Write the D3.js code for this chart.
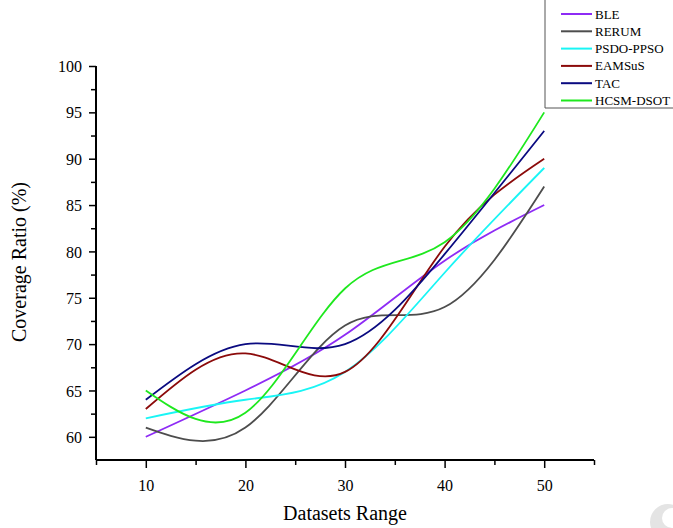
<!DOCTYPE html>
<html>
<head>
<meta charset="utf-8">
<script src="https://cdn.jsdelivr.net/npm/d3@7"></script>
<style>
  body { margin: 0; background: #fff; }
  svg { display: block; }
  svg text { font-family: "Liberation Serif", "Times New Roman", serif; }
</style>
</head>
<body>
<svg id="chart"></svg>
<script>
const width = 673;
const height = 528;

// data
const xValues = [10, 20, 30, 40, 50];
const seriesNames = ["BLE", "RERUM", "PSDO-PPSO", "EAMSuS", "TAC", "HCSM-DSOT"];
const bleValues = [60, 65, 71, 79, 85];
const rerumValues = [61, 61, 72, 74, 87];
const psdoValues = [62, 64, 67, 77.7, 89];
const eamsusValues = [63, 69, 67, 80.5, 90];
const tacValues = [64, 70, 70, 79.7, 93];
const hcsmValues = [65, 62.6, 76, 81, 95];
const xTicks = [10, 20, 30, 40, 50];
const yTicks = [60, 65, 70, 75, 80, 85, 90, 95, 100];

const colors = ["#8e2bf5", "#4d4d4d", "#19f5f5", "#8b0a0a", "#0a0a80", "#1ee81e"];
const allValues = [bleValues, rerumValues, psdoValues, eamsusValues, tacValues, hcsmValues];

const svg = d3.select("#chart").attr("width", width).attr("height", height);

const x = d3.scaleLinear().domain([5, 55]).range([96, 594]);
const y = d3.scaleLinear().domain([57.5, 100]).range([460, 66]);

// curves
const line = d3.line()
  .x((d) => x(d[0]))
  .y((d) => y(d[1]))
  .curve(d3.curveNatural);

allValues.forEach(function (vals, i) {
  svg.append("path")
    .datum(xValues.map((xv, j) => [xv, vals[j]]))
    .attr("fill", "none")
    .attr("stroke", colors[i])
    .attr("stroke-width", 1.8)
    .attr("d", line);
});

// x axis
const xAxis = svg.append("g").attr("transform", `translate(0,${y(57.5)})`);
xAxis.call(d3.axisBottom(x).tickValues(d3.range(5, 56, 5)).tickSize(5).tickFormat(""))
  .call((g) => g.select(".domain").attr("stroke-width", 2));
xAxis.selectAll(".tick line").attr("stroke-width", 1.5)
  .attr("y2", (d) => (xTicks.includes(d) ? 8 : 5));
xAxis.selectAll(".tick")
  .filter((d) => xTicks.includes(d))
  .append("text")
  .attr("y", 31)
  .attr("fill", "#000")
  .attr("text-anchor", "middle")
  .style("font-size", "16px")
  .text((d) => d);
xAxis.select(".domain").attr("d", `M${x(5)},0H${x(55)}`);

// y axis
const yAxis = svg.append("g").attr("transform", `translate(${x(5)},0)`);
yAxis.call(d3.axisLeft(y).tickValues(d3.range(60, 100.1, 2.5)).tickSize(5).tickFormat(""))
  .call((g) => g.select(".domain").attr("stroke-width", 2));
yAxis.select(".domain").attr("d", `M0,${y(57.5)}V${y(100)}`);
yAxis.selectAll(".tick line").attr("stroke-width", 1.5)
  .attr("x2", (d) => (yTicks.includes(d) ? -7 : -5));
yAxis.selectAll(".tick")
  .filter((d) => yTicks.includes(d))
  .append("text")
  .attr("x", -14)
  .attr("dy", "0.35em")
  .attr("fill", "#000")
  .attr("text-anchor", "end")
  .style("font-size", "16px")
  .text((d) => d);

// axis titles
svg.append("text")
  .attr("x", 345)
  .attr("y", 520)
  .attr("text-anchor", "middle")
  .style("font-size", "20px")
  .text("Datasets Range");

svg.append("text")
  .attr("transform", "translate(26,262) rotate(-90)")
  .attr("text-anchor", "middle")
  .style("font-size", "20px")
  .text("Coverage Ratio (%)");

// legend
const legend = svg.append("g");
legend.append("path")
  .attr("d", "M545,0V108H673")
  .attr("fill", "none")
  .attr("stroke", "#555")
  .attr("stroke-width", 1);
seriesNames.forEach(function (name, i) {
  const ly = 14 + i * 17.3;
  legend.append("line")
    .attr("x1", 561).attr("x2", 592)
    .attr("y1", ly).attr("y2", ly)
    .attr("stroke", colors[i])
    .attr("stroke-width", 2);
  legend.append("text")
    .attr("x", 595)
    .attr("y", ly)
    .attr("dy", "0.35em")
    .style("font-size", "13px")
    .text(name);
});

// faint watermark corner mark
svg.append("circle").attr("cx", 668).attr("cy", 522).attr("r", 18).attr("fill", "#e4e4e4");
svg.append("circle").attr("cx", 672).attr("cy", 518).attr("r", 10).attr("fill", "#fff");
</script>
</body>
</html>
